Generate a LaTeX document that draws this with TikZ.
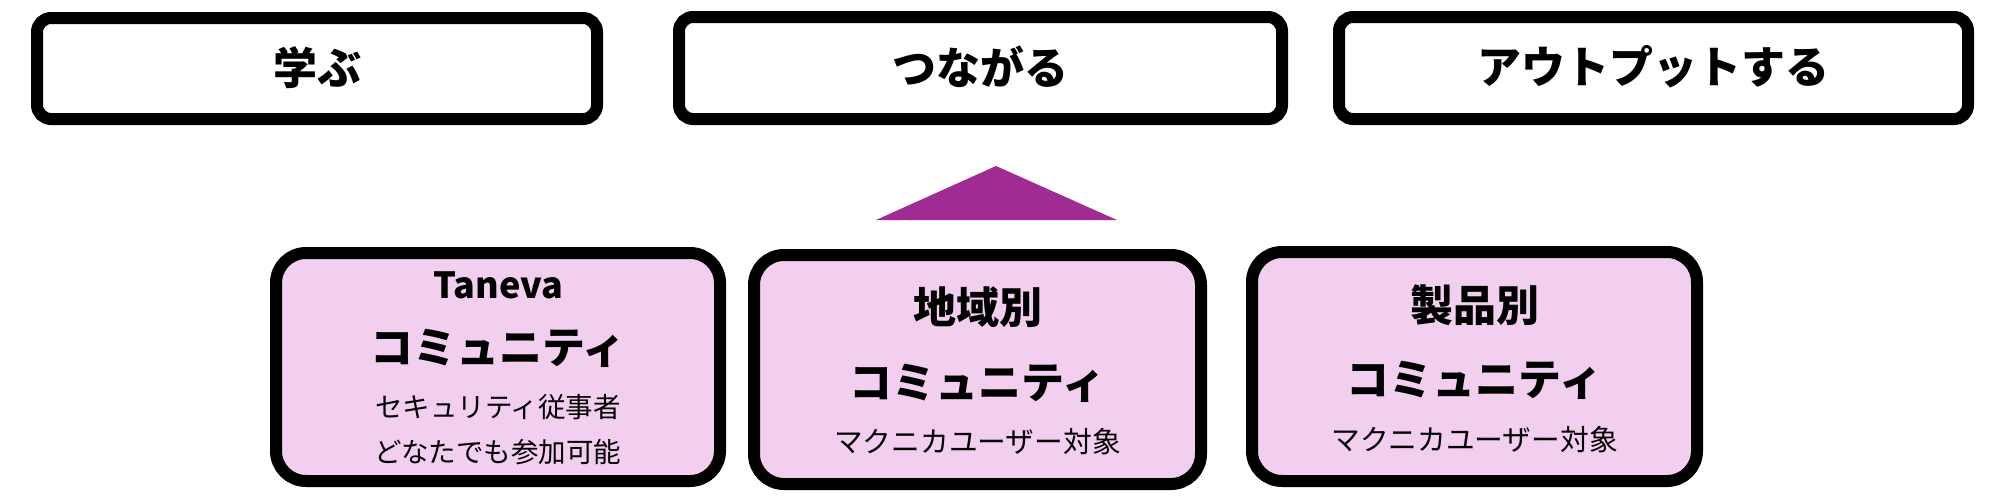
\documentclass[tikz,border=0pt]{standalone}
\usepackage{fontspec}
\newfontfamily\jp{Noto Sans CJK JP}
\definecolor{boxpink}{HTML}{F2CEEF}
\definecolor{tripurple}{HTML}{A02B93}
\tikzset{
  topbox/.style={draw=black, line width=12pt, rounded corners=14pt, fill=white, inner sep=0pt},
  combox/.style={draw=black, line width=12pt, rounded corners=30pt, fill=boxpink, inner sep=0pt},
  toptext/.style={font=\jp\bfseries\fontsize{44}{52}\selectfont, inner sep=0pt},
  headtext/.style={font=\jp\bfseries\fontsize{43}{51}\selectfont, inner sep=0pt},
  latintext/.style={font=\jp\bfseries\fontsize{36}{43}\selectfont, inner sep=0pt},
  bodytext/.style={font=\jp\fontsize{27.5}{33}\selectfont, inner sep=0pt},
  bodywide/.style={font=\jp\fontsize{28.7}{34}\selectfont, inner sep=0pt},
}
\begin{document}
\begin{tikzpicture}[x=1pt, y=-1pt]
\useasboundingbox (0,0) rectangle (2000,501);
% top boxes
\node[topbox, minimum width=560pt, minimum height=101pt] (t1) at (317,68.5) {};
\node[toptext] (t1t) at (317,68) {学ぶ};
\node[topbox, minimum width=603pt, minimum height=102pt] (t2) at (980.5,68) {};
\node[toptext] (t2t) at (980.5,67) {つながる};
\node[topbox, minimum width=629pt, minimum height=102pt] (t3) at (1653.5,68) {};
\node[toptext] (t3t) at (1653.5,67) {アウトプットする};
% triangle
\fill[tripurple] (876,220) -- (996,166) -- (1117,220) -- cycle;
% bottom boxes
\node[combox, minimum width=444pt, minimum height=228pt] (b1) at (498,367) {};
\node[latintext] (b1a) at (498,285) {Taneva};
\node[headtext] (b1b) at (498,348) {コミュニティ};
\node[bodytext] (b1c) at (498,407) {セキュリティ従事者};
\node[bodytext] (b1d) at (498,452) {どなたでも参加可能};
\node[combox, minimum width=447pt, minimum height=229pt] (b2) at (977.5,369.5) {};
\node[headtext] (b2a) at (977.5,307) {地域別};
\node[headtext] (b2b) at (977.5,383) {コミュニティ};
\node[bodywide] (b2c) at (977.5,442) {マクニカユーザー対象};
\node[combox, minimum width=445pt, minimum height=229pt] (b3) at (1474.5,366.5) {};
\node[headtext] (b3a) at (1474.5,305) {製品別};
\node[headtext] (b3b) at (1474.5,380) {コミュニティ};
\node[bodywide] (b3c) at (1474.5,440) {マクニカユーザー対象};
\end{tikzpicture}
\end{document}
